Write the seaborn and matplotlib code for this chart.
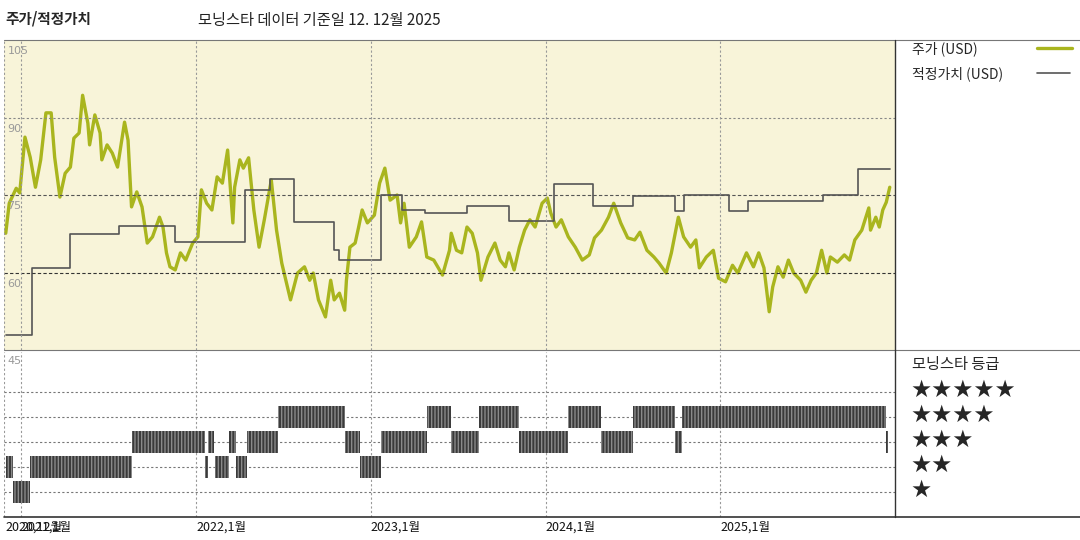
import matplotlib
matplotlib.use("Agg")
import matplotlib.pyplot as plt
from matplotlib.lines import Line2D
import seaborn as sns
import pandas as pd

sns.set_theme(style="white")
plt.rcParams['font.family'] = ['Noto Sans CJK KR', 'DejaVu Sans']

# price (decimal year, USD)
price_t = [2020.91,2020.93,2020.97,2020.99,2021.02,2021.05,2021.08,2021.11,2021.14,2021.17,2021.19,2021.22,2021.25,2021.28,2021.30,2021.33,2021.35,2021.38,2021.39,2021.42,2021.45,2021.46,2021.49,2021.52,2021.55,2021.59,2021.61,2021.63,2021.66,2021.69,2021.72,2021.75,2021.79,2021.81,2021.83,2021.85,2021.88,2021.91,2021.94,2021.98,2022.01,2022.03,2022.06,2022.09,2022.12,2022.15,2022.18,2022.21,2022.22,2022.25,2022.27,2022.30,2022.33,2022.36,2022.39,2022.43,2022.46,2022.49,2022.54,2022.58,2022.62,2022.65,2022.67,2022.70,2022.74,2022.77,2022.79,2022.82,2022.85,2022.86,2022.88,2022.91,2022.93,2022.95,2022.98,2023.02,2023.05,2023.08,2023.11,2023.15,2023.17,2023.19,2023.22,2023.26,2023.29,2023.32,2023.36,2023.41,2023.45,2023.46,2023.49,2023.52,2023.55,2023.58,2023.61,2023.63,2023.67,2023.71,2023.74,2023.77,2023.79,2023.82,2023.85,2023.88,2023.91,2023.94,2023.98,2024.01,2024.03,2024.06,2024.09,2024.13,2024.17,2024.21,2024.25,2024.28,2024.32,2024.36,2024.39,2024.43,2024.47,2024.51,2024.54,2024.58,2024.62,2024.65,2024.69,2024.72,2024.76,2024.79,2024.83,2024.86,2024.88,2024.92,2024.96,2024.99,2025.03,2025.07,2025.10,2025.15,2025.19,2025.22,2025.25,2025.28,2025.30,2025.33,2025.36,2025.39,2025.42,2025.46,2025.49,2025.52,2025.55,2025.58,2025.61,2025.63,2025.67,2025.71,2025.74,2025.77,2025.81,2025.85,2025.86,2025.89,2025.91,2025.93,2025.95,2025.97]
price_v = [67.6,73.4,76.3,75.4,86.2,82.3,76.5,81.8,90.9,90.9,82.3,74.6,79.2,80.4,86.0,87.0,94.3,88.9,84.7,90.5,87.0,81.8,84.7,83.1,80.4,89.1,85.6,72.7,75.6,72.7,65.7,66.9,70.7,68.8,63.8,61.1,60.5,63.8,62.4,65.7,66.9,76.0,73.4,72.1,78.5,77.3,83.7,69.6,76.5,81.8,80.2,82.2,72.1,64.9,70.2,77.9,68.2,61.8,54.7,59.9,61.1,58.5,59.9,54.7,51.4,58.5,54.7,56.0,52.7,58.5,64.9,65.7,68.8,72.1,69.6,71.1,77.3,80.2,74.0,75.0,69.6,73.4,64.9,66.9,69.8,63.0,62.4,59.5,64.3,67.6,64.3,63.8,68.8,67.6,63.8,58.5,63.0,65.7,62.4,61.1,63.8,60.5,64.9,68.2,70.2,68.8,73.4,74.4,71.5,68.8,70.2,66.9,64.9,62.4,63.4,66.7,68.2,70.7,73.4,69.6,66.7,66.3,67.8,64.3,63.0,61.8,59.9,63.8,70.7,66.9,64.9,66.3,60.9,63.0,64.3,58.9,58.2,61.4,59.9,63.8,61.1,63.8,60.9,52.4,57.2,61.1,59.1,62.4,59.9,58.5,56.2,58.5,59.9,64.3,59.9,63.0,62.0,63.4,62.4,66.3,68.2,72.5,68.2,70.7,68.8,72.1,73.6,76.5]

# fair value step changes
fv_t = [2020.91,2021.06,2021.28,2021.56,2021.88,2022.28,2022.42,2022.56,2022.79,2022.82,2023.06,2023.18,2023.31,2023.55,2023.79,2024.05,2024.27,2024.50,2024.74,2024.79,2025.05,2025.16,2025.59,2025.79,2025.97]
fv_v = [47.9,60.8,67.4,69.0,65.9,76.0,78.1,69.8,64.3,62.4,75.0,72.1,71.5,72.9,70.0,77.1,72.9,74.8,71.9,75.0,71.9,73.8,75.0,80.0,80.0]

# star rating segments (start, end, stars)
rate_start = [2020.91,2020.95,2021.05,2021.63,2022.05,2022.07,2022.11,2022.19,2022.23,2022.29,2022.47,2022.85,2022.94,2023.06,2023.32,2023.46,2023.62,2023.85,2024.13,2024.32,2024.50,2024.74,2024.78,2025.95]
rate_end   = [2020.95,2021.05,2021.63,2022.05,2022.065,2022.10,2022.19,2022.23,2022.29,2022.47,2022.85,2022.94,2023.06,2023.32,2023.46,2023.62,2023.85,2024.13,2024.32,2024.50,2024.74,2024.78,2025.95,2025.96]
rate_star  = [2,1,2,3,2,3,2,3,2,3,4,3,2,3,4,3,4,3,4,3,4,3,4,3]

year_ticks = [2020.91, 2021.0, 2022.0, 2023.0, 2024.0, 2025.0]
year_labels = ["2020,12월", "2021,1월", "2022,1월", "2023,1월", "2024,1월", "2025,1월"]
y_ticks = [105, 90, 75, 60]
star_labels = ["★", "★★", "★★★", "★★★★", "★★★★★"]

W, H = 1080, 540
fig = plt.figure(figsize=(10.8, 5.4), dpi=100)
fig.patch.set_facecolor("white")
xl, xr = 4 / W, 895 / W
ax = fig.add_axes([xl, 1 - 350 / H, xr - xl, 310 / H])
ax2 = fig.add_axes([xl, 1 - 517 / H, xr - xl, 165 / H])
xlim = (2020.90, 2026.0)

# top panel
ax.set_facecolor("#F8F4D9")
df_p = pd.DataFrame({"t": price_t, "v": price_v})
sns.lineplot(data=df_p, x="t", y="v", ax=ax, color="#A9B51E", lw=2.4)
ax.step(fv_t, fv_v, where="post", color="#555555", lw=1.2)
ax.set_xlim(*xlim)
ax.set_ylim(45, 105)
for v, c, ls in [(90, "#888888", (0, (2, 2))), (75, "#555555", (0, (3, 2))), (60, "#333333", (0, (3, 2)))]:
    ax.axhline(v, color=c, lw=0.8, ls=ls)
for t in year_ticks[1:]:
    ax.axvline(t, color="#999999", lw=0.8, ls=(0, (2, 2)))
    ax2.axvline(t, color="#999999", lw=0.8, ls=(0, (2, 2)))
for v in y_ticks:
    ax.text(0.004, v - 1.2, str(v), transform=ax.get_yaxis_transform(), fontsize=8, color="#999999", va="top", ha="left", family=["DejaVu Sans"])
ax.set_xticks([]); ax.set_yticks([])
ax.set_xlabel(""); ax.set_ylabel("")
for s in ax.spines.values():
    s.set_visible(False)

# bottom panel ratings
ax2.set_facecolor("white")
ax2.set_xlim(*xlim)
ax2.set_ylim(0, 6.6)
for k in range(1, 6):
    ax2.axhline(k, color="#777777", lw=0.8, ls=(0, (2, 2)), zorder=1)
for a, b, s in zip(rate_start, rate_end, rate_star):
    ax2.broken_barh([(a, b - a)], (s - 0.44, 0.88), facecolors="#3a3a3a", edgecolor="#8a8a8a", hatch="|||||", lw=0, zorder=3)
ax2.text(0.004, 6.45, "45", transform=ax2.get_yaxis_transform(), fontsize=8, color="#999999", va="top", family=["DejaVu Sans"])
ax2.set_xticks([]); ax2.set_yticks([])
for s in ax2.spines.values():
    s.set_visible(False)
ax2.axvline(xlim[0], color="#999999", lw=0.8, ls=(0, (2, 2)))
ax.axvline(xlim[0], color="#999999", lw=0.8, ls=(0, (2, 2)))
for t, lab in zip(year_ticks, year_labels):
    ax2.text(t, -0.15, lab, transform=ax2.transData, fontsize=9, ha="left", va="top", color="#111111")

# frame lines
def fl(x0, y0, x1, y1, c="#333333", lw=1.0):
    fig.add_artist(Line2D([x0 / W, x1 / W], [1 - y0 / H, 1 - y1 / H], color=c, lw=lw))
fl(4, 40, W, 40, "#777777", 0.8)
fl(4, 350, W, 350, "#777777", 0.8)
fl(4, 517, W, 517, "#333333", 1.2)
fl(895, 40, 895, 517, "#333333", 1.0)

# titles
fig.text(5 / W, 1 - 18 / H, "주가/적정가치", fontsize=10.5, fontweight="bold", va="center")
fig.text(198 / W, 1 - 20 / H, "모닝스타 데이터 기준일 12. 12월 2025", fontsize=11, va="center", color="#222222")

# legend column
fig.text(912 / W, 1 - 49 / H, "주가 (USD)", fontsize=10, va="center")
fl(1037, 48, 1072, 48, "#A9B51E", 2.4)
fig.text(912 / W, 1 - 74 / H, "적정가치 (USD)", fontsize=10, va="center")
fl(1037, 73, 1070, 73, "#555555", 1.2)
fig.text(912 / W, 1 - 364 / H, "모닝스타 등급", fontsize=11, va="center")
for k, lab in enumerate(star_labels):
    fig.text(910 / W, 1 - (490 - 25 * k) / H, lab, fontsize=17, va="center", family=["DejaVu Sans"])

fig.savefig("out.png", dpi=100, facecolor="white")
